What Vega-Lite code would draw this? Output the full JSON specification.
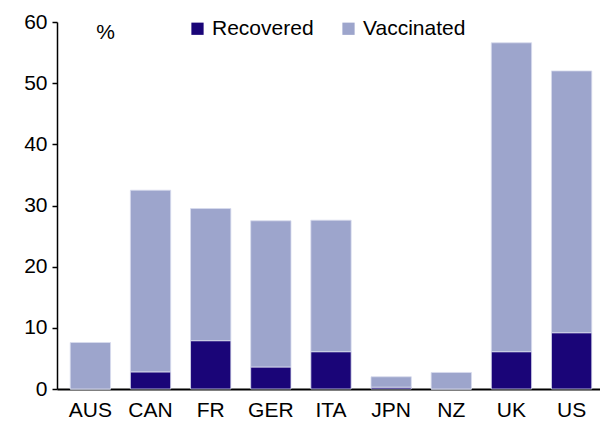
{
  "$schema": "https://vega.github.io/schema/vega-lite/v6.json",
  "autosize": "none",
  "width": 548,
  "height": 367,
  "padding": {"left": 57, "top": 22, "right": 0, "bottom": 36},
  "background": "white",
  "config": {
    "view": {"stroke": null},
    "font": "Liberation Sans",
    "axis": {"labelFont": "Liberation Sans", "labelColor": "black", "labelFontSize": 21, "grid": false},
    "legend": {"labelFont": "Liberation Sans"}
  },
  "data": {
    "values": [
      {"country": "AUS", "type": "Recovered", "value": 0, "ord": 1},
      {"country": "AUS", "type": "Vaccinated", "value": 7.6, "ord": 2},
      {"country": "CAN", "type": "Recovered", "value": 2.8, "ord": 1},
      {"country": "CAN", "type": "Vaccinated", "value": 29.7, "ord": 2},
      {"country": "FR", "type": "Recovered", "value": 7.9, "ord": 1},
      {"country": "FR", "type": "Vaccinated", "value": 21.6, "ord": 2},
      {"country": "GER", "type": "Recovered", "value": 3.6, "ord": 1},
      {"country": "GER", "type": "Vaccinated", "value": 23.9, "ord": 2},
      {"country": "ITA", "type": "Recovered", "value": 6.1, "ord": 1},
      {"country": "ITA", "type": "Vaccinated", "value": 21.5, "ord": 2},
      {"country": "JPN", "type": "Recovered", "value": 0.3, "ord": 1},
      {"country": "JPN", "type": "Vaccinated", "value": 1.7, "ord": 2},
      {"country": "NZ", "type": "Recovered", "value": 0, "ord": 1},
      {"country": "NZ", "type": "Vaccinated", "value": 2.7, "ord": 2},
      {"country": "UK", "type": "Recovered", "value": 6.1, "ord": 1},
      {"country": "UK", "type": "Vaccinated", "value": 50.5, "ord": 2},
      {"country": "US", "type": "Recovered", "value": 9.2, "ord": 1},
      {"country": "US", "type": "Vaccinated", "value": 42.8, "ord": 2}
    ]
  },
  "mark": {"type": "bar", "stroke": "#d8dcee", "strokeWidth": 0.8},
  "encoding": {
    "x": {
      "field": "country", "type": "nominal", "sort": null,
      "scale": {"paddingInner": 0.33, "paddingOuter": 0.22},
      "axis": {"title": null, "labelAngle": 0, "ticks": false, "labelPadding": 10, "domainColor": "black", "domainWidth": 2}
    },
    "y": {
      "field": "value", "type": "quantitative", "stack": "zero",
      "scale": {"domain": [0, 60], "nice": false},
      "axis": {
        "values": [0, 10, 20, 30, 40, 50, 60],
        "title": "%", "titleAngle": 0, "titleX": 48, "titleY": 10, "titleAlign": "center", "titleBaseline": "middle",
        "titleFontSize": 21, "titleFontWeight": "normal", "titleFont": "Liberation Sans", "titleColor": "black",
        "domainColor": "black", "domainWidth": 1.5, "tickColor": "black", "tickSize": 5, "tickWidth": 1.5, "labelPadding": 5
      }
    },
    "color": {
      "field": "type", "type": "nominal",
      "scale": {"domain": ["Recovered", "Vaccinated"], "range": ["#1a0578", "#9da5cc"]},
      "legend": {
        "title": null, "orient": "none", "direction": "horizontal", "legendX": 130, "legendY": -4,
        "symbolType": "square", "symbolSize": 150, "symbolStrokeWidth": 0, "labelFontSize": 21, "labelColor": "black",
        "columnPadding": 24, "labelOffset": 4
      }
    },
    "order": {"field": "ord", "type": "quantitative"}
  }
}
